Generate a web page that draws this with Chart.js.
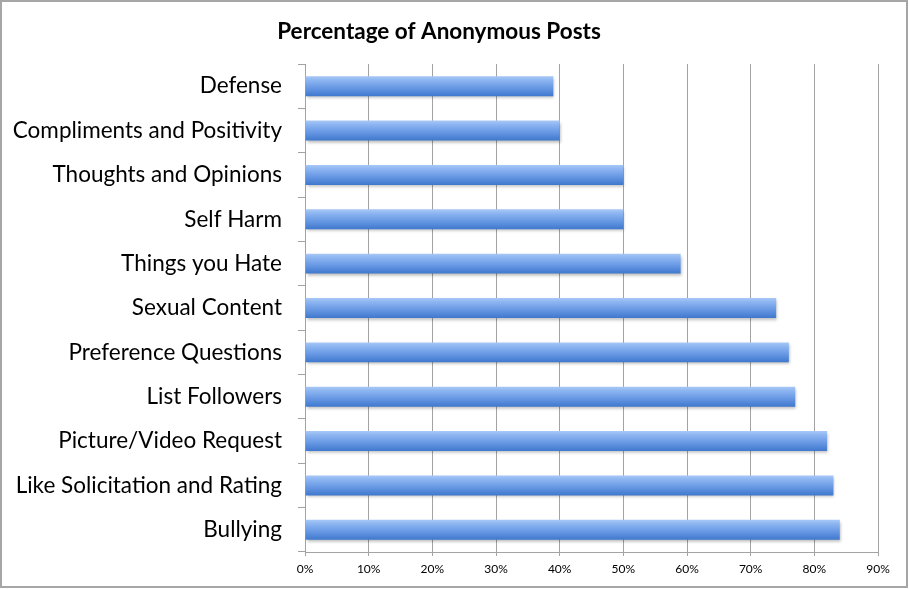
<!DOCTYPE html>
<html>
<head>
<meta charset="utf-8">
<title>Percentage of Anonymous Posts</title>
<script src="https://cdn.jsdelivr.net/npm/chart.js@4/dist/chart.umd.min.js"></script>
<style>
  html, body { margin: 0; padding: 0; background: #fff; }
  #wrap { width: 909px; height: 589px; position: relative; }
</style>
</head>
<body>
<div id="wrap"><canvas id="chart"></canvas></div>
<script>
/* ── Data ── */
const categories = [
    'Defense',
    'Compliments and Positivity',
    'Thoughts and Opinions',
    'Self Harm',
    'Things you Hate',
    'Sexual Content',
    'Preference Questions',
    'List Followers',
    'Picture/Video Request',
    'Like Solicitation and Rating',
    'Bullying'
];
const percentages = [39, 40, 50, 50, 59, 74, 76, 77, 82, 83, 84];
const xTicks = [0, 10, 20, 30, 40, 50, 60, 70, 80, 90];

const BAR_PCT = 0.45;
const GRID = '#a3a3a3';

/* ── Bar gradient (light top, darker bottom) ── */
function barGradient(ctx) {
    const chart = ctx.chart;
    const ys = chart.scales.y;
    if (!ys || !chart.chartArea) return '#6597e4';
    const c = ys.getPixelForValue(ctx.dataIndex);
    const half = (ys.bottom - ys.top) / categories.length * BAR_PCT / 2;
    const g = chart.ctx.createLinearGradient(0, c - half, 0, c + half);
    g.addColorStop(0,    '#a8c8f7');
    g.addColorStop(0.2,  '#8db5f1');
    g.addColorStop(0.6,  '#6697e3');
    g.addColorStop(1,    '#3f78cd');
    return g;
}

/* ── Plugins ── */
const frame = {
    id: 'frame',
    afterDraw(chart) {
        const { ctx, width, height } = chart;
        ctx.save();
        ctx.strokeStyle = '#a6a6a6';
        ctx.lineWidth = 2;
        ctx.strokeRect(1, 1, width - 3, height - 3);
        ctx.restore();
    }
};

const barShadow = {
    id: 'barShadow',
    beforeDatasetsDraw(chart) {
        const ctx = chart.ctx;
        ctx.save();
        ctx.shadowColor = 'rgba(0,0,0,0.28)';
        ctx.shadowBlur = 3;
        ctx.shadowOffsetX = 1;
        ctx.shadowOffsetY = 2;
    },
    afterDatasetsDraw(chart) {
        chart.ctx.restore();
    }
};

new Chart(document.getElementById('chart'), {
    type: 'bar',
    data: {
        labels: categories,
        datasets: [{
            label: 'Percentage',
            data: percentages,
            backgroundColor: barGradient,
            borderWidth: 0,
            barPercentage: BAR_PCT,
            categoryPercentage: 1
        }]
    },
    options: {
        indexAxis: 'y',
        responsive: true,
        maintainAspectRatio: false,
        animation: false,
        layout: { padding: { left: 0, right: 31, top: 1, bottom: 0 } },
        scales: {
            x: {
                min: 0, max: 90,
                afterBuildTicks: s => { s.ticks = xTicks.map(v => ({ value: v })); },
                afterFit: s => { s.height = 37; },
                ticks: {
                    color: '#000',
                    font: { family: 'Lato', size: 12 },
                    padding: 6,
                    maxRotation: 0,
                    callback: v => v + '%'
                },
                grid: { color: GRID, lineWidth: 1, tickLength: 4 },
                border: { color: GRID, width: 1 }
            },
            y: {
                afterFit: s => { s.width = 305; },
                ticks: {
                    color: '#000',
                    font: { family: 'Lato', size: 22.5 },
                    padding: 16,
                    autoSkip: false
                },
                grid: { drawOnChartArea: false, color: GRID, tickLength: 7, offset: true },
                border: { color: GRID, width: 1 }
            }
        },
        plugins: {
            legend: { display: false },
            tooltip: { enabled: false },
            title: {
                display: true,
                text: 'Percentage of Anonymous Posts',
                color: '#000',
                font: { family: 'Lato', size: 22.5, weight: 'bold' },
                padding: { top: 17, bottom: 19 }
            }
        }
    },
    plugins: [frame, barShadow]
});
</script>
</body>
</html>
